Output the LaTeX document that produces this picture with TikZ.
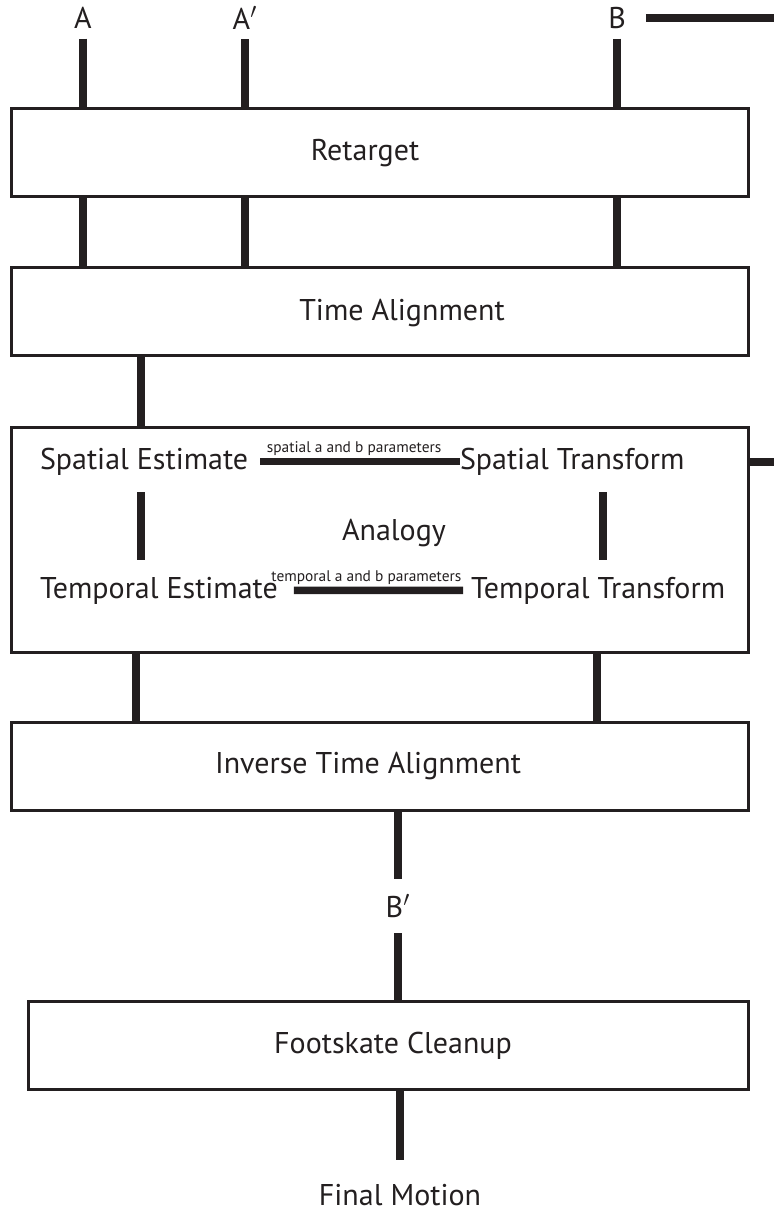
\documentclass[tikz,border=0pt]{standalone}
\usepackage{fontspec}
\setmainfont{PT Sans}
\usetikzlibrary{positioning}
\definecolor{ink}{HTML}{231F20}

\begin{document}
\begin{tikzpicture}[x=0.5pt,y=-0.5pt,
    blk/.style={draw=ink, line width=1.5pt, minimum width=368.5pt, minimum height=44pt, inner sep=0pt},
    lbl/.style={text=ink, font=\fontsize{15}{17}\selectfont, inner sep=0pt, outer sep=5pt},
    txt/.style={text=ink, font=\fontsize{15}{17}\selectfont, inner sep=0pt, outer sep=0pt},
    tiny/.style={text=ink, font=\fontsize{7.7}{9}\selectfont, inner sep=1pt},
    link/.style={draw=ink, line width=3.75pt}]
    \useasboundingbox (0,0) rectangle (774,1213);

    % inputs
    \node[lbl] (A) at (83,18) {A};
    \node[lbl] (Ap) at (245,18) {A$'$};
    \node[lbl] (B) at (617,18) {B};
    \coordinate (eB) at (774,18);

    % stages
    \node[blk] (ret) at (379.5,153) {};
    \node[blk] (tal) at (379.5,311.5) {};
    \node[blk, minimum height=112.5pt] (ana) at (379.5,539.5) {};
    \node[blk] (ita) at (379.5,766.5) {};
    \node[blk, minimum width=360pt] (fsc) at (388,1045.5) {};
    \node[txt] (retT) at (365,153) {Retarget};
    \node[txt] (talT) at (402,313) {Time Alignment};
    \node[txt] (itaT) at (368,766) {Inverse Time Alignment};
    \node[txt] (fscT) at (393,1046) {Footskate Cleanup};

    % inside the analogy box
    \node[txt, anchor=base west] (se) at (40,469) {Spatial Estimate};
    \node[txt, anchor=base west] (st) at (460,469) {Spatial Transform};
    \node[txt, anchor=base west] (te) at (40,598) {Temporal Estimate};
    \node[txt, anchor=base west] (tt) at (471,598) {Temporal Transform};
    \node[txt, anchor=base] (anl) at (394,540) {Analogy};
    \coordinate (xL) at (141,0);
    \coordinate (xR) at (603,0);
    \coordinate (eS) at (774,462);

    % outputs
    \node[lbl, outer sep=8pt] (Bp) at (398,906) {B$'$};
    \node[lbl, outer sep=12pt] (fin) at (400,1195) {Final Motion};
    \coordinate (xa) at (136,0);
    \coordinate (xb) at (597,0);

    % connectors
    \draw[link, shorten <=5pt] (B) -- (eB);
    \foreach \n in {A,Ap,B} {
        \draw[link] (\n) -- (ret.north -| \n);
        \draw[link] (ret.south -| \n) -- (tal.north -| \n);
    }
    \draw[link] (tal.south -| xL) -- (ana.north -| xL);
    \draw[link, shorten <=6pt] (se) -- node[tiny, above=0pt] {spatial a and b parameters} (st);
    \draw[link, shorten <=8pt, shorten >=4pt] (te) -- node[tiny, above=0pt, xshift=-4pt] {temporal a and b parameters} (tt);
    \draw[link, shorten <=8.5pt, shorten >=8.5pt] (se.south -| xL) -- (te.north -| xL);
    \draw[link, shorten <=8.5pt, shorten >=8.5pt] (st.south -| xR) -- (tt.north -| xR);
    \draw[link] (ana.east |- eS) -- (eS);
    \draw[link] (ana.south -| xa) -- (ita.north -| xa);
    \draw[link] (ana.south -| xb) -- (ita.north -| xb);
    \draw[link] (ita.south -| Bp) -- (Bp);
    \draw[link] (Bp) -- (fsc.north -| Bp);
    \draw[link] (fsc.south -| fin) -- (fin);
\end{tikzpicture}
\end{document}
